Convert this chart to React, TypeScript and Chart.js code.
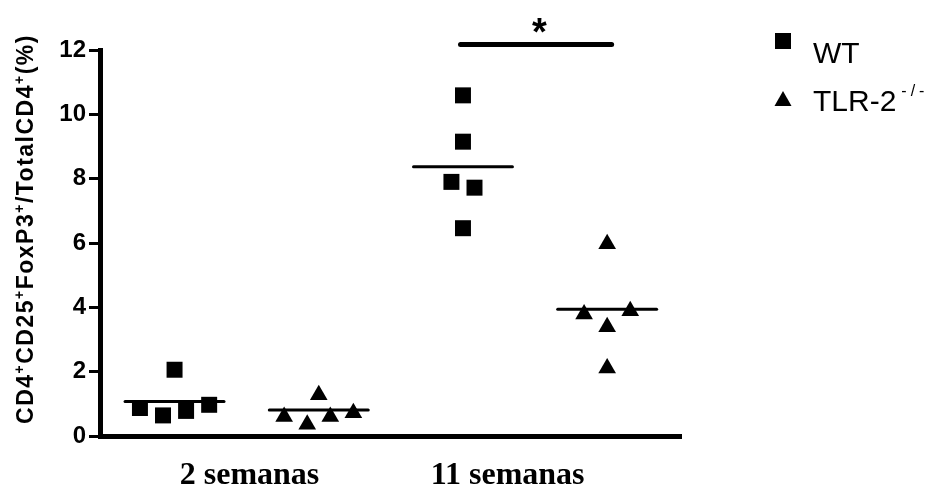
import React, { useEffect, useRef } from "react";
import { Chart, registerables } from "chart.js";

Chart.register(...registerables);

// ---- data ----
const categories = ["2 semanas", "11 semanas"];
const categoryTickPositions = [1.52, 3.31];
const seriesNames = ["WT", "TLR-2"];
const seriesSuperscripts = ["", "-/-"];

const groupPositions = [1, 2, 3, 4]; // WT 2wk, TLR 2wk, WT 11wk, TLR 11wk

const wt2wk = [0.87, 0.64, 2.06, 0.78, 0.97];
const wt2wkJitter = [-0.24, -0.08, 0, 0.08, 0.24];
const tlr2wk = [0.6, 0.36, 1.28, 0.6, 0.72];
const tlr2wkJitter = [-0.24, -0.08, 0, 0.08, 0.24];
const wt11wk = [10.59, 9.15, 7.9, 7.72, 6.46];
const wt11wkJitter = [0, 0, -0.08, 0.08, 0];
const tlr11wk = [3.79, 3.39, 5.97, 2.11, 3.89];
const tlr11wkJitter = [-0.16, 0, 0, 0, 0.16];

const meanValues = [1.07, 0.81, 8.37, 3.94];
const meanHalfWidth = 0.343;

const sigBarX = [2.983, 4.031];
const sigBarY = 12.17;
const sigLabel = "*";
const sigLabelX = 3.53;

const yMin = 0;
const yMax = 12;
const yStep = 2;
const xMin = 0.483;
const xMax = 4.512;

const yTitleParts: [string, boolean][] = [
  ["CD4", false],
  ["+", true],
  ["CD25", false],
  ["+", true],
  ["FoxP3", false],
  ["+", true],
  ["/TotalCD4", false],
  ["+", true],
  ["(%)", false],
];

const SANS = '"Liberation Sans", Arial, sans-serif';
const SERIF = '"Liberation Serif", "Times New Roman", serif';

function pts(vals: number[], jitter: number[], g: number) {
  return vals.map((v, i) => ({ x: g + jitter[i], y: v }));
}

const overlayPlugin = {
  id: "overlay",
  afterDraw(chart: any) {
    const ctx = chart.ctx as CanvasRenderingContext2D;
    const xs = chart.scales.x;
    ctx.save();
    ctx.fillStyle = "#000";

    // y-axis title with superscripts
    ctx.save();
    ctx.translate(33, 229);
    ctx.rotate(-Math.PI / 2);
    (ctx as any).letterSpacing = "1.5px";
    const mainFont = `bold 23px ${SANS}`;
    const supFont = `bold 14px ${SANS}`;
    let total = 0;
    for (const [t, sup] of yTitleParts) {
      ctx.font = sup ? supFont : mainFont;
      total += ctx.measureText(t).width;
    }
    let cx = -total / 2;
    ctx.textBaseline = "alphabetic";
    ctx.textAlign = "left";
    for (const [t, sup] of yTitleParts) {
      ctx.font = sup ? supFont : mainFont;
      ctx.fillText(t, cx, sup ? -9 : 0);
      cx += ctx.measureText(t).width;
    }
    ctx.restore();

    // significance asterisk
    ctx.save();
    ctx.font = `bold 38px ${SANS}`;
    ctx.textAlign = "center";
    ctx.textBaseline = "alphabetic";
    const m = ctx.measureText(sigLabel);
    const targetCenter = 25;
    const base = targetCenter - (m.actualBoundingBoxDescent - m.actualBoundingBoxAscent) / 2;
    ctx.fillText(sigLabel, xs.getPixelForValue(sigLabelX), base);
    ctx.restore();

    // legend
    ctx.save();
    ctx.fillRect(775, 33, 16, 16);
    ctx.beginPath();
    ctx.moveTo(783, 91);
    ctx.lineTo(791.5, 106);
    ctx.lineTo(774.5, 106);
    ctx.closePath();
    ctx.fill();
    ctx.font = `30px ${SANS}`;
    ctx.textAlign = "left";
    ctx.textBaseline = "alphabetic";
    ctx.fillText(seriesNames[0], 813, 63);
    ctx.fillText(seriesNames[1], 813, 111);
    const w = ctx.measureText(seriesNames[1]).width;
    ctx.font = `16px ${SANS}`;
    (ctx as any).letterSpacing = "4px";
    ctx.fillText(seriesSuperscripts[1], 813 + w + 5, 96);
    ctx.restore();

    ctx.restore();
  },
};

export default function App() {
  const ref = useRef<HTMLCanvasElement | null>(null);

  useEffect(() => {
    document.body.style.margin = "0";
    const canvas = ref.current!;
    const lineDs = (data: any[], width: number) => ({
      type: "line" as const,
      data,
      borderColor: "#000",
      borderWidth: width,
      borderCapStyle: "round" as const,
      pointRadius: 0,
      showLine: true,
      fill: false,
      clip: false as any,
    });
    const meanDatasets = meanValues.map((m, i) =>
      lineDs(
        [
          { x: groupPositions[i] - meanHalfWidth, y: m },
          { x: groupPositions[i] + meanHalfWidth, y: m },
        ],
        3
      )
    );
    const sigDs = lineDs(
      [
        { x: sigBarX[0], y: sigBarY },
        { x: sigBarX[1], y: sigBarY },
      ],
      5
    );
    const chart = new Chart(canvas, {
      type: "scatter",
      data: {
        datasets: [
          ...meanDatasets,
          sigDs,
          {
            label: seriesNames[0],
            data: [
              ...pts(wt2wk, wt2wkJitter, groupPositions[0]),
              ...pts(wt11wk, wt11wkJitter, groupPositions[2]),
            ],
            pointStyle: "rect",
            pointRadius: 11.3,
            pointHoverRadius: 11.3,
            backgroundColor: "#000",
            borderWidth: 0,
            clip: false as any,
          },
          {
            label: seriesNames[1],
            data: [
              ...pts(tlr2wk, tlr2wkJitter, groupPositions[1]),
              ...pts(tlr11wk, tlr11wkJitter, groupPositions[3]),
            ],
            pointStyle: "triangle",
            pointRadius: 10.2,
            pointHoverRadius: 10.2,
            backgroundColor: "#000",
            borderWidth: 0,
            clip: false as any,
          },
        ] as any,
      },
      options: {
        responsive: false,
        animation: false,
        events: [],
        layout: { padding: { left: 0, top: 50, right: 253, bottom: 0 } },
        plugins: { legend: { display: false }, tooltip: { enabled: false } },
        scales: {
          x: {
            type: "linear",
            min: xMin,
            max: xMax,
            grid: { display: false, drawTicks: false },
            border: { display: true, width: 5, color: "#000" },
            afterBuildTicks: (scale: any) => {
              scale.ticks = categoryTickPositions.map((v) => ({ value: v }));
            },
            afterFit: (scale: any) => {
              scale.height = 50;
            },
            ticks: {
              autoSkip: false,
              maxRotation: 0,
              padding: 21,
              color: "#000",
              font: { family: SERIF, size: 32, weight: "bold" },
              callback: (_v: any, i: number) => categories[i],
            },
          },
          y: {
            type: "linear",
            min: yMin,
            max: yMax,
            grid: {
              display: true,
              drawOnChartArea: false,
              drawTicks: true,
              tickLength: 11,
              tickWidth: 3,
              tickColor: "#000",
              color: "#000",
            },
            border: { display: true, width: 5, color: "#000" },
            afterFit: (scale: any) => {
              scale.width = 100;
            },
            ticks: {
              stepSize: yStep,
              padding: 3,
              color: "#000",
              font: { family: SANS, size: 24, weight: "bold" },
            },
          },
        },
      },
      plugins: [overlayPlugin],
    });
    return () => chart.destroy();
  }, []);

  return (
    <div style={{ position: "absolute", left: 0, top: 0, width: 934, height: 486, background: "#fff" }}>
      <canvas ref={ref} width={934} height={486} style={{ display: "block", width: 934, height: 486 }} />
    </div>
  );
}
